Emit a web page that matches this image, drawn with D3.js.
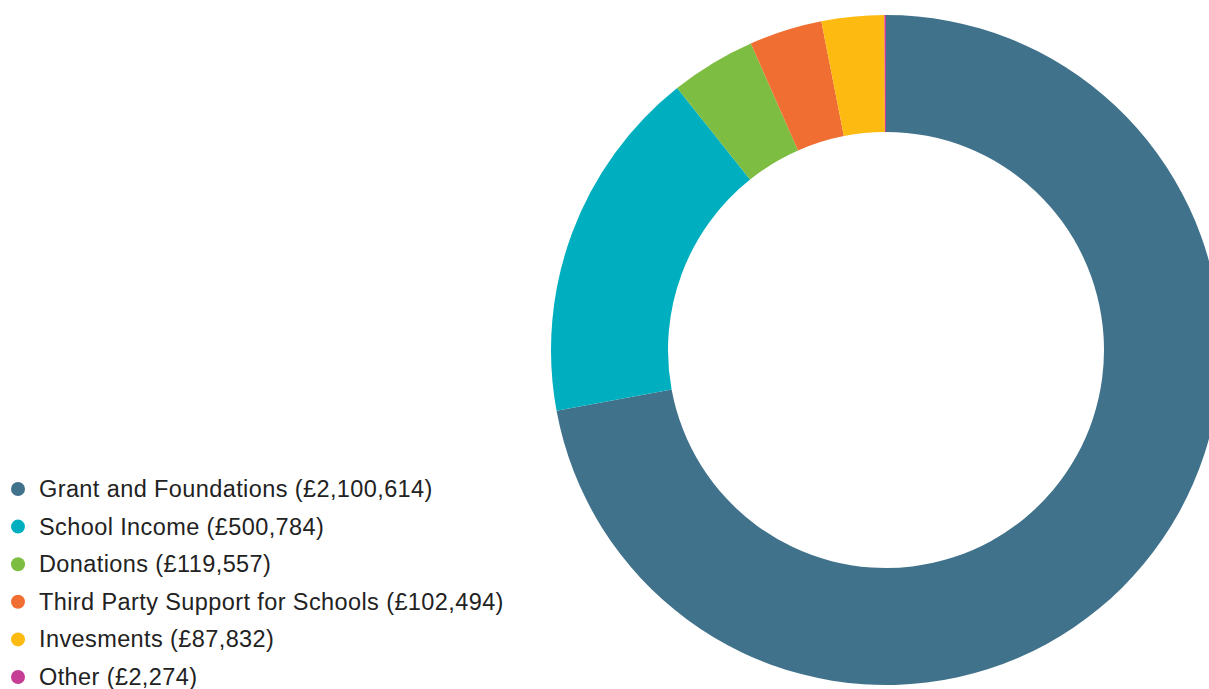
<!DOCTYPE html>
<html lang="en">
<head>
    <meta charset="UTF-8">
    <title>Income breakdown</title>
    <script src="https://d3js.org/d3.v7.min.js"></script>
    <style>
        body { margin: 0; background: #fff; }
        svg { display: block; }
        .legend text { font-family: "Liberation Sans"; font-size: 23.5px; letter-spacing: 0.4px; fill: #222; }
    </style>
</head>
<body>
    <svg width="1209" height="689"></svg>

    <script>
        const categories = ["Grant and Foundations", "School Income", "Donations",
            "Third Party Support for Schools", "Invesments", "Other"];
        const values = [2100614, 500784, 119557, 102494, 87832, 2274];
        const colours = ["#41728b", "#00afbf", "#7dbd41", "#f06e32", "#fdbb12", "#c63d96"];

        const width = 1209, height = 689;
        const cx = 886, cy = 350, outerR = 335, innerR = 218;

        const svg = d3.select("svg");
        const fmt = d3.format(",");

        const data = categories.map((c, i) => ({ name: c, value: values[i], colour: colours[i] }));

        const pie = d3.pie().sort(null).value(d => d.value);
        const arc = d3.arc().innerRadius(innerR).outerRadius(outerR);

        const g = svg.append("g").attr("transform", `translate(${cx},${cy})`);
        g.selectAll("path")
            .data(pie(data))
            .enter().append("path")
            .attr("d", arc)
            .attr("fill", d => d.data.colour);

        // legend
        const legend = svg.append("g").attr("class", "legend");
        const y = d3.scalePoint().domain(categories).range([489, 677]);
        const row = legend.selectAll("g")
            .data(data)
            .enter().append("g")
            .attr("transform", d => `translate(0,${y(d.name)})`);
        row.append("circle")
            .attr("cx", 18)
            .attr("r", 7)
            .attr("fill", d => d.colour);
        row.append("text")
            .attr("x", 39)
            .attr("dy", "0.34em")
            .text(d => `${d.name} (£${fmt(d.value)})`);
    </script>
</body>
</html>
